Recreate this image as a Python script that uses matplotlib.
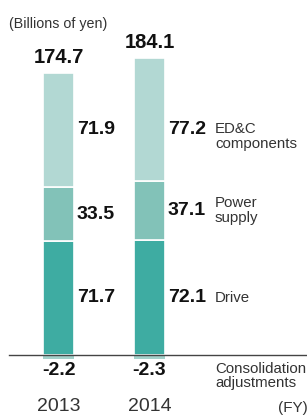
import matplotlib.pyplot as plt
import numpy as np

plt.rcParams["font.family"] = ["Liberation Sans", "DejaVu Sans"]

# ── data ─────────────────────────────────────────────────────────────────────
years = ["2013", "2014"]
totals = [174.7, 184.1]
drive = [71.7, 72.1]
power = [33.5, 37.1]
edc = [71.9, 77.2]
consolidation = [-2.2, -2.3]
segment_names = ["Drive", "Power\nsupply", "ED&C\ncomponents"]
adj_name = "Consolidation\nadjustments"

seg_colors = ["#3eaca2", "#82c2b8", "#b2d8d3"]
neg_color = "#a3d1ca"
val_color = "#111111"
name_color = "#333333"

# ── figure ───────────────────────────────────────────────────────────────────
fig = plt.figure(figsize=(3.07, 4.16), dpi=100)
ax = fig.add_axes([0, 0, 1, 1])
ax.set_xlim(-0.643, 2.731)
ax.set_ylim(-38.27, 222.7)
ax.axis("off")

x = np.arange(len(years))
w = 0.34
segments = [drive, power, edc]
bottom = np.zeros(len(years))
mids = []
for vals, col in zip(segments, seg_colors):
    vals = np.array(vals)
    ax.bar(x, vals, w, bottom=bottom, color=col, edgecolor="white", linewidth=1.2)
    mids.append(bottom + vals / 2)
    bottom = bottom + vals

ax.bar(x, consolidation, w, color=neg_color, linewidth=0)
ax.axhline(0, xmin=9 / 307, xmax=1, color="#444444", linewidth=1)

# segment values next to each bar
for s, vals in enumerate(segments):
    for i in range(len(years)):
        y = mids[s][i]
        if s == 2:
            y = mids[s][0]  # top labels sit on one line
        ax.text(x[i] + 0.2, y, f"{vals[i]:.1f}", ha="left", va="center",
                fontsize=14, fontweight="bold", color=val_color)

# segment names on the right
name_y = [mids[0][1], mids[1][1], mids[2][0] - 4]
for name, y in zip(segment_names, name_y):
    ax.text(1.72, y, name, ha="left", va="center", fontsize=10.8,
            color=name_color, linespacing=1.05)

# totals above bars
for i in range(len(years)):
    ax.annotate(f"{totals[i]:.1f}", (x[i], bottom[i]), xytext=(0, 4),
                textcoords="offset points", ha="center", va="bottom",
                fontsize=14.5, fontweight="bold", color=val_color)

# consolidation adjustments
for i in range(len(years)):
    ax.text(x[i], -9.8, f"{consolidation[i]:.1f}", ha="center", va="center",
            fontsize=14, fontweight="bold", color=val_color)
ax.text(1.72, -13.3, adj_name, ha="left", va="center", fontsize=10.8,
        color=name_color, linespacing=1.05)

# years and unit labels
for i in range(len(years)):
    ax.text(x[i], -32.6, years[i], ha="center", va="center", fontsize=14,
            color=name_color)
ax.text(2.41, -33.3, "(FY)", ha="left", va="center", fontsize=11,
        color=name_color)
ax.text(-0.545, 207.5, "(Billions of yen)", ha="left", va="center",
        fontsize=10.3, color=name_color)

fig.savefig("out.png", dpi=100, facecolor="white")
